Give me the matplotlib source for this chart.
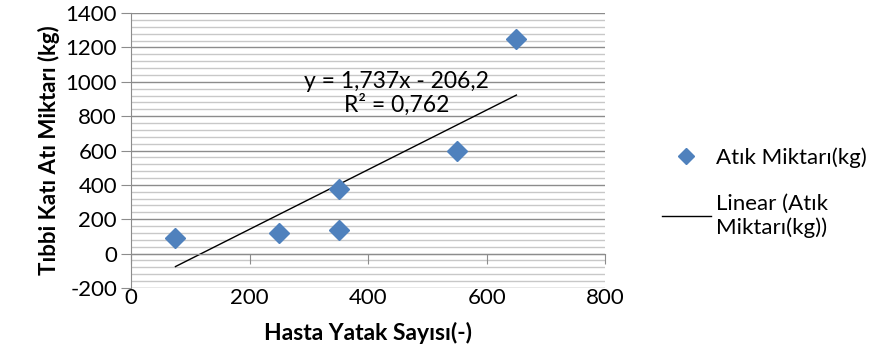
import numpy as np
import matplotlib.pyplot as plt
from matplotlib.lines import Line2D

plt.rcParams['font.family'] = ['Lato', 'DejaVu Sans']
plt.rcParams['axes.unicode_minus'] = False

# hasta yatak sayisi vs tibbi atik miktari
yatak = [75, 250, 350, 350, 550, 650]
atik = [88, 118, 373, 138, 600, 1252]

# Excel trendline katsayilari
egim = 1.737
kesim = -206.2
r2 = 0.762

xticks = [0, 200, 400, 600, 800]
yticks = [-200, 0, 200, 400, 600, 800, 1000, 1200, 1400]

fig = plt.figure(figsize=(8.85, 3.46), dpi=100)
ax = fig.add_axes([0.148, 0.168, 0.536, 0.794])

ax.set_xlim(0, 800)
ax.set_ylim(-200, 1400)

# yatay izgara: ana 200, ara 40
for y in np.arange(-200, 1401, 40):
    if y % 200 == 0:
        ax.axhline(y, color='#8c8c8c', lw=1.0, zorder=0)
    else:
        ax.axhline(y, color='#c8c8c8', lw=1.0, zorder=0)

ax.spines['top'].set_visible(False)
ax.spines['right'].set_visible(False)
ax.spines['left'].set_color('#8c8c8c')
ax.spines['bottom'].set_position(('data', 0))
ax.spines['bottom'].set_color('#8c8c8c')

ax.set_xticks(xticks)
ax.set_yticks(yticks)
ax.tick_params(axis='x', direction='out', length=7, color='#8c8c8c', labelbottom=False)
ax.tick_params(axis='y', direction='out', length=7, color='#8c8c8c', labelsize=16, pad=3)

# x etiketleri en altta
sec = ax.secondary_xaxis(0)
sec.set_xticks(xticks)
sec.spines['bottom'].set_visible(False)
sec.tick_params(length=0, labelsize=16, pad=0)
sec.set_xlabel('Hasta Yatak Sayısı(-)', fontsize=16.5, fontweight='bold', labelpad=10)

ax.plot(yatak, atik, linestyle='none', marker='D', markersize=10,
        color='#4f81bd', zorder=3)

xt = np.array([min(yatak), max(yatak)])
ax.plot(xt, egim * xt + kesim, color='black', lw=1.0, zorder=2)

ax.text(448, 935, f'y = {egim:.3f}x - {abs(kesim):.1f}\nR² = {r2:.3f}'.replace('.', ','),
        ha='center', va='center', fontsize=16.5, linespacing=1.1)

ax.set_ylabel('Tıbbi Katı Atı Miktarı (kg)', fontsize=16, fontweight='bold', labelpad=4)

handles = [
    Line2D([], [], linestyle='none', marker='D', markersize=8, color='#4f81bd'),
    Line2D([], [], color='black', lw=1.0),
]
fig.legend(handles, ['Atık Miktarı(kg)', 'Linear (Atık\nMiktarı(kg))'],
           loc='upper left', bbox_to_anchor=(0.748, 0.575), frameon=False,
           borderpad=0, borderaxespad=0,
           fontsize=16, handlelength=2.2, labelspacing=1.2, handletextpad=0.25)

fig.savefig('out.png', dpi=100)
